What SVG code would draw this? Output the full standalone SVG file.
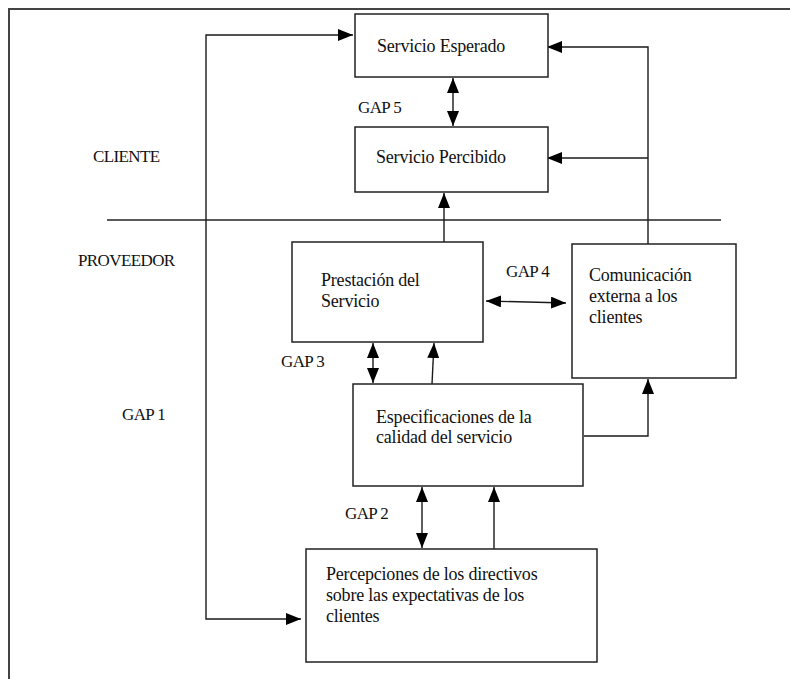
<svg xmlns="http://www.w3.org/2000/svg" width="790" height="679" viewBox="0 0 790 679">
<style>
  .box { fill: #ffffff; stroke: #222222; stroke-width: 1.5; }
  .txt { font-family: "Liberation Serif", "Times New Roman", serif; font-size: 18px; letter-spacing: -0.2px; fill: #111111; }
  .cap { font-family: "Liberation Serif", "Times New Roman", serif; font-size: 17px; fill: #111111; letter-spacing: -0.6px; }
  .ln { fill: none; stroke: #1a1a1a; stroke-width: 1.4; }
  .frame { fill: none; stroke: #444444; stroke-width: 2; }
</style>
<defs>
  <marker id="arr" viewBox="0 0 15 12" refX="15" refY="6" markerWidth="15" markerHeight="12" markerUnits="userSpaceOnUse" orient="auto-start-reverse">
    <path d="M0,0 L15,6 L0,12 Z" fill="#000000"/>
  </marker>
</defs>
<rect width="790" height="679" fill="#ffffff"/>
<g id="frame">
  <polyline class="frame" points="9,679 9,9 790,9"/>
  <line x1="107" y1="220" x2="721" y2="220" stroke="#222222" stroke-width="1.5"/>
</g>
<g id="labels">
  <text class="cap" x="93" y="162">CLIENTE</text>
  <text class="cap" x="78" y="266">PROVEEDOR</text>
  <text class="cap" x="122" y="420">GAP 1</text>
  <text class="cap" x="358" y="113">GAP 5</text>
  <text class="cap" x="506" y="277">GAP 4</text>
  <text class="cap" x="281" y="367">GAP 3</text>
  <text class="cap" x="345" y="519">GAP 2</text>
</g>
<g id="connectors">
  <polyline class="ln" points="353,35 206,35 206,619 301,619" marker-start="url(#arr)" marker-end="url(#arr)"/>
  <polyline class="ln" points="648,244 648,47 547,47" marker-end="url(#arr)"/>
  <line class="ln" x1="648" y1="158" x2="547" y2="158" marker-end="url(#arr)"/>
  <line class="ln" x1="453" y1="78" x2="453" y2="126" marker-start="url(#arr)" marker-end="url(#arr)"/>
  <line class="ln" x1="444" y1="242" x2="444" y2="193" marker-end="url(#arr)"/>
  <line class="ln" x1="486" y1="301" x2="566" y2="303" marker-start="url(#arr)" marker-end="url(#arr)"/>
  <line class="ln" x1="373" y1="343" x2="373" y2="383" marker-start="url(#arr)" marker-end="url(#arr)"/>
  <line class="ln" x1="432" y1="384" x2="434" y2="343" marker-end="url(#arr)"/>
  <polyline class="ln" points="584,436 648,436 648,379" marker-end="url(#arr)"/>
  <line class="ln" x1="422" y1="487" x2="422" y2="548" marker-start="url(#arr)" marker-end="url(#arr)"/>
  <line class="ln" x1="494" y1="549" x2="494" y2="487" marker-end="url(#arr)"/>
</g>
<g id="servicio-esperado">
  <rect class="box" x="355" y="14" width="193" height="63"/>
  <text class="txt" x="377" y="52">Servicio Esperado</text>
</g>
<g id="servicio-percibido">
  <rect class="box" x="355" y="127" width="193" height="65"/>
  <text class="txt" x="376" y="163">Servicio Percibido</text>
</g>
<g id="prestacion">
  <rect class="box" x="292" y="242" width="191" height="100"/>
  <text class="txt" x="321" y="286">Prestación del</text>
  <text class="txt" x="321" y="307">Servicio</text>
</g>
<g id="comunicacion">
  <rect class="box" x="572" y="244" width="164" height="134"/>
  <text class="txt" x="589" y="281">Comunicación</text>
  <text class="txt" x="589" y="302">externa a los</text>
  <text class="txt" x="589" y="323">clientes</text>
</g>
<g id="especificaciones">
  <rect class="box" x="353" y="384" width="230" height="102"/>
  <text class="txt" x="376" y="423">Especificaciones de la</text>
  <text class="txt" x="376" y="443">calidad del servicio</text>
</g>
<g id="percepciones">
  <rect class="box" x="306" y="549" width="291" height="113"/>
  <text class="txt" x="326" y="580">Percepciones de los directivos</text>
  <text class="txt" x="326" y="601">sobre las expectativas de los</text>
  <text class="txt" x="326" y="622">clientes</text>
</g>
</svg>
